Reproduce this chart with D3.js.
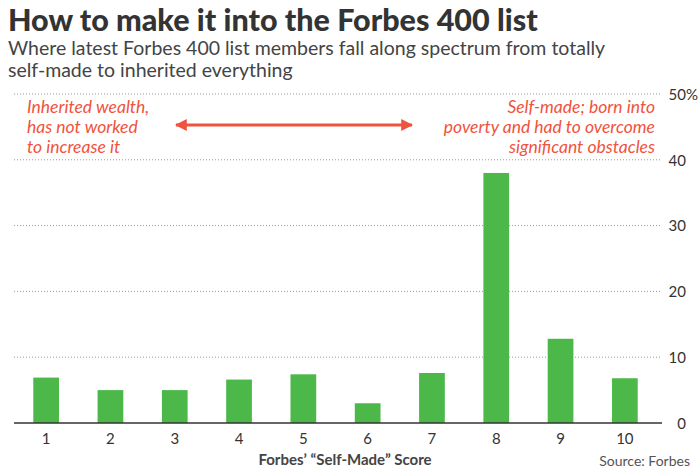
<!DOCTYPE html>
<html><head><meta charset="utf-8">
<script src="https://cdn.jsdelivr.net/npm/d3@7"></script>
<style>body{margin:0;background:#fff;font-family:Lato,sans-serif}</style>
</head><body><svg id="chart"></svg>
<script>
const scores = ["1","2","3","4","5","6","7","8","9","10"];
const shares = [6.9, 5.0, 5.0, 6.6, 7.4, 3.0, 7.6, 38.0, 12.8, 6.8];
const yTicks = [0, 10, 20, 30, 40, 50];

const width = 700, height = 471;
const margin = { top: 94, right: 38, bottom: 48, left: 14 };
const w = width - margin.left - margin.right;
const h = height - margin.top - margin.bottom;

const svg = d3.select("#chart").attr("width", width).attr("height", height);

svg.append("text").attr("x", 8).attr("y", 31)
  .style("font-size", "30.5px").style("font-weight", "900").style("fill", "#333")
  .text("How to make it into the Forbes 400 list");
svg.append("text").attr("x", 8).attr("y", 55).style("font-size", "19.5px").style("fill", "#444")
  .text("Where latest Forbes 400 list members fall along spectrum from totally");
svg.append("text").attr("x", 8).attr("y", 77).style("font-size", "19.5px").style("fill", "#444")
  .text("self-made to inherited everything");

const g = svg.append("g").attr("transform", `translate(${margin.left},${margin.top})`);

const x = d3.scaleBand().domain(scores).range([0, w - 5]).paddingInner(0.6).paddingOuter(0.3);
const y = d3.scaleLinear().domain([0, 50]).range([h, 0]);

g.selectAll(".grid").data(yTicks.filter(d => d > 0)).join("line")
  .attr("x1", 0).attr("x2", w)
  .attr("y1", d => y(d)).attr("y2", d => y(d))
  .style("stroke", "#999").style("stroke-dasharray", "1,2");

const yAxis = g.append("g").attr("transform", `translate(${w + 24},0)`)
  .call(d3.axisRight(y).tickValues(yTicks).tickSize(0).tickFormat(d => d === 50 ? "50%" : d));
yAxis.select(".domain").remove();
yAxis.selectAll("text").attr("x", 0).attr("dy", "0.35em").attr("text-anchor", "end")
  .style("font-size", "15px").style("font-family", "Lato").style("fill", "#333");
yAxis.selectAll("text").filter(d => d === 50).attr("x", 12);

g.selectAll("rect").data(shares).join("rect")
  .attr("x", (d, i) => x(scores[i])).attr("width", x.bandwidth())
  .attr("y", d => y(d)).attr("height", d => h - y(d))
  .style("fill", "#4cb849");

g.append("line").attr("x1", 0).attr("x2", w).attr("y1", h).attr("y2", h)
  .style("stroke", "#333").style("stroke-width", 1.5);

const xAxis = g.append("g").attr("transform", `translate(0,${h})`)
  .call(d3.axisBottom(x).tickSize(0));
xAxis.select(".domain").remove();
xAxis.selectAll("text").attr("dy", "1.2em").style("font-size", "15px")
  .style("font-family", "Lato").style("fill", "#333");

g.append("text").attr("x", 331).attr("y", h + 42)
  .attr("text-anchor", "middle").style("font-size", "15px").style("font-weight", "bold").style("fill", "#444")
  .text("Forbes’ “Self-Made” Score");
svg.append("text").attr("x", 690).attr("y", 466).attr("text-anchor", "end")
  .style("font-size", "14px").style("fill", "#555").text("Source: Forbes");

const red = "#f0533d";
const ann = svg.append("g").style("font-size", "17.5px").style("font-style", "italic").style("fill", red);
["Inherited wealth,", "has not worked", "to increase it"].forEach((t, i) =>
  ann.append("text").attr("x", 27).attr("y", 113 + i * 20).text(t));
["Self-made; born into", "poverty and had to overcome", "significant obstacles"].forEach((t, i) =>
  ann.append("text").attr("x", 655).attr("y", 113 + i * 20).attr("text-anchor", "end").text(t));

svg.append("defs").append("marker").attr("id", "ah").attr("viewBox", "0 0 10 10")
  .attr("refX", 9).attr("refY", 5).attr("markerWidth", 4).attr("markerHeight", 4).attr("orient", "auto-start-reverse")
  .append("path").attr("d", "M0,0L10,5L0,10z").style("fill", red);
svg.append("line").attr("x1", 176).attr("x2", 412).attr("y1", 125).attr("y2", 125)
  .style("stroke", red).style("stroke-width", 3)
  .attr("marker-start", "url(#ah)").attr("marker-end", "url(#ah)");
</script></body></html>
